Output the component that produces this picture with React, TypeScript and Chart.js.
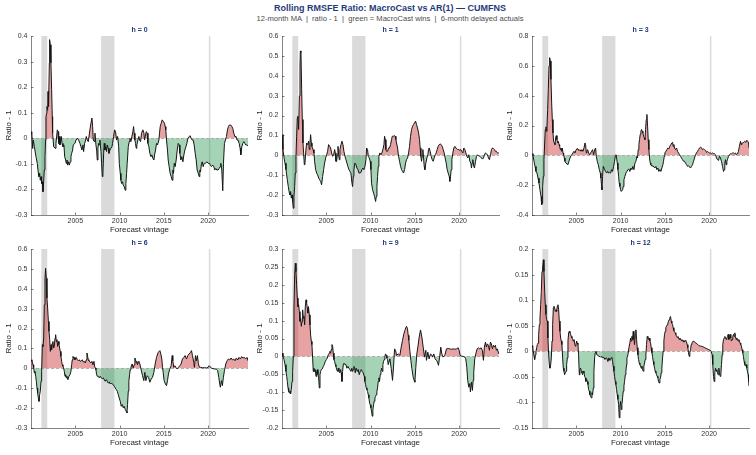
import { useEffect, useRef } from "react";
import { Chart, registerables } from "chart.js";

Chart.register(...registerables);

const FONT = '"Liberation Sans", Arial, Helvetica, sans-serif';
const NAVY = "#1f3a7a";
const AXIS = "#333333";
const RED_FILL = "rgba(205, 60, 60, 0.47)";
const GREEN_FILL = "rgba(40, 150, 80, 0.42)";
const BAND = "#dadada";

// NBER recessions (decimal years)
const recessions: [number, number][] = [
  [2001.17, 2001.83],
  [2007.92, 2009.42],
  [2020.08, 2020.25],
];

const vintageRange: [number, number] = [2000, 2024.5];
const yearTicks = [2005, 2010, 2015, 2020];

// Rolling RMSFE ratio - 1, by forecast vintage (decimal year)
const ratioH0: [number, number][] = [
  [2000.00,0.017],[2000.08,0.026],[2000.19,-0.040],[2000.26,-0.007],[2000.38,-0.033],[2000.56,-0.072],[2000.71,-0.098],[2000.83,-0.137],[2000.90,-0.150],[2000.98,-0.137],
  [2001.05,-0.164],[2001.13,-0.150],[2001.20,-0.177],[2001.28,-0.170],[2001.35,-0.209],[2001.43,-0.170],[2001.50,-0.124],[2001.58,-0.072],[2001.65,-0.007],[2001.69,0.085],
  [2001.77,0.098],[2001.80,0.124],[2001.88,0.110],[2001.92,0.183],[2001.96,0.163],[2002.00,0.124],[2002.07,0.295],[2002.10,0.386],[2002.18,0.366],[2002.25,0.295],
  [2002.33,0.190],[2002.40,0.085],[2002.44,0.020],[2002.56,-0.033],[2002.71,-0.039],[2002.82,-0.020],[2002.97,0.033],[2003.05,0.026],[2003.12,-0.020],[2003.20,0.007],
  [2003.27,-0.026],[2003.35,-0.007],[2003.42,0.007],[2003.50,-0.020],[2003.61,-0.033],[2003.72,-0.026],[2003.80,-0.072],[2003.91,-0.085],[2003.98,-0.098],[2004.06,-0.085],
  [2004.14,-0.105],[2004.25,-0.092],[2004.32,-0.105],[2004.44,-0.092],[2004.51,-0.072],[2004.59,-0.059],[2004.70,-0.046],[2004.77,-0.026],[2004.96,-0.020],[2005.08,-0.007],
  [2005.23,0.000],[2005.38,-0.007],[2005.53,-0.020],[2005.64,-0.033],[2005.75,-0.046],[2005.87,-0.026],[2005.94,-0.052],[2006.05,-0.020],[2006.17,-0.007],[2006.24,0.007],
  [2006.35,-0.007],[2006.47,-0.013],[2006.65,0.033],[2006.77,0.059],[2006.88,0.079],[2006.96,0.046],[2007.03,-0.007],[2007.14,-0.013],[2007.22,0.020],[2007.33,-0.026],
  [2007.41,-0.046],[2007.48,-0.085],[2007.56,-0.039],[2007.63,-0.020],[2007.71,-0.026],[2007.78,-0.007],[2007.90,-0.052],[2007.97,-0.098],[2008.05,-0.150],[2008.12,-0.137],
  [2008.20,-0.059],[2008.27,-0.020],[2008.35,-0.046],[2008.46,-0.033],[2008.53,-0.052],[2008.61,-0.026],[2008.72,-0.039],[2008.80,-0.059],[2008.91,-0.046],[2009.02,-0.039],
  [2009.14,-0.033],[2009.21,-0.020],[2009.32,0.007],[2009.44,0.033],[2009.55,0.026],[2009.66,-0.007],[2009.78,0.007],[2009.90,-0.033],[2009.97,-0.098],[2010.08,-0.137],
  [2010.15,-0.164],[2010.23,-0.177],[2010.34,-0.170],[2010.41,-0.183],[2010.53,-0.190],[2010.64,-0.203],[2010.71,-0.177],[2010.79,-0.137],[2010.86,-0.098],[2010.98,-0.033],
  [2011.09,-0.013],[2011.17,0.000],[2011.28,-0.013],[2011.39,0.007],[2011.50,0.026],[2011.58,0.046],[2011.65,0.020],[2011.73,-0.007],[2011.80,-0.020],[2011.88,-0.039],
  [2011.95,-0.026],[2012.07,-0.007],[2012.18,0.007],[2012.25,-0.007],[2012.37,-0.013],[2012.48,0.020],[2012.63,0.033],[2012.75,0.020],[2012.82,-0.007],[2012.90,0.007],
  [2013.01,0.026],[2013.12,0.020],[2013.20,-0.020],[2013.31,-0.033],[2013.42,-0.059],[2013.54,-0.072],[2013.65,-0.065],[2013.76,-0.079],[2013.88,-0.085],[2013.95,-0.065],
  [2014.06,-0.046],[2014.17,-0.020],[2014.29,-0.026],[2014.44,-0.007],[2014.51,0.020],[2014.59,0.046],[2014.70,0.059],[2014.81,0.072],[2014.96,0.065],[2015.07,0.059],
  [2015.15,0.046],[2015.22,0.033],[2015.30,-0.007],[2015.41,-0.046],[2015.49,-0.085],[2015.60,-0.111],[2015.71,-0.137],[2015.83,-0.150],[2015.94,-0.164],[2016.02,-0.124],
  [2016.09,-0.137],[2016.17,-0.098],[2016.28,-0.111],[2016.39,-0.085],[2016.51,-0.046],[2016.62,-0.020],[2016.73,-0.026],[2016.81,-0.059],[2016.92,-0.085],[2017.03,-0.072],
  [2017.15,-0.092],[2017.26,-0.065],[2017.37,-0.046],[2017.49,-0.033],[2017.60,-0.020],[2017.71,0.000],[2017.86,0.007],[2017.97,0.010],[2018.08,0.000],[2018.20,-0.007],
  [2018.31,-0.007],[2018.42,-0.026],[2018.54,-0.059],[2018.65,-0.085],[2018.76,-0.124],[2018.88,-0.137],[2018.99,-0.150],[2019.06,-0.124],[2019.14,-0.131],[2019.25,-0.098],
  [2019.33,-0.092],[2019.44,-0.111],[2019.55,-0.098],[2019.70,-0.098],[2019.85,-0.092],[2020.00,-0.098],[2020.15,-0.098],[2020.26,-0.105],[2020.38,-0.111],[2020.53,-0.105],
  [2020.64,-0.111],[2020.75,-0.124],[2020.87,-0.118],[2020.98,-0.124],[2021.13,-0.124],[2021.24,-0.118],[2021.36,-0.111],[2021.43,-0.098],[2021.54,-0.124],[2021.65,-0.205],
  [2021.73,-0.098],[2021.84,-0.020],[2021.95,-0.007],[2022.07,0.007],[2022.18,0.033],[2022.29,0.046],[2022.40,0.052],[2022.55,0.052],[2022.67,0.046],[2022.78,0.039],
  [2022.89,0.020],[2023.01,0.007],[2023.16,0.007],[2023.27,-0.007],[2023.38,-0.007],[2023.50,-0.020],[2023.61,-0.039],[2023.69,-0.065],[2023.80,-0.033],[2023.91,-0.020],
  [2024.03,-0.013],[2024.14,-0.020],[2024.25,-0.026],[2024.36,-0.026],[2024.50,-0.029],
];

const ratioH1: [number, number][] = [
  [2000.00,0.104],[2000.11,0.029],[2000.23,-0.013],[2000.34,-0.039],[2000.45,-0.072],[2000.60,-0.123],[2000.71,-0.157],[2000.83,-0.190],[2000.90,-0.199],[2000.98,-0.182],
  [2001.05,-0.215],[2001.13,-0.199],[2001.20,-0.232],[2001.28,-0.266],[2001.35,-0.207],[2001.43,-0.157],[2001.50,-0.089],[2001.58,-0.005],[2001.65,0.096],[2001.73,0.189],
  [2001.80,0.197],[2001.88,0.130],[2001.96,0.298],[2002.03,0.449],[2002.07,0.525],[2002.14,0.517],[2002.22,0.332],[2002.29,0.180],[2002.37,0.062],[2002.44,0.012],
  [2002.52,-0.047],[2002.59,-0.039],[2002.67,0.012],[2002.78,0.062],[2002.90,0.054],[2003.01,0.071],[2003.08,0.029],[2003.16,0.062],[2003.23,0.104],[2003.31,0.062],
  [2003.38,0.045],[2003.50,0.029],[2003.61,0.012],[2003.68,-0.030],[2003.80,-0.072],[2003.91,-0.089],[2004.02,-0.098],[2004.14,-0.114],[2004.25,-0.123],[2004.36,-0.131],
  [2004.47,-0.148],[2004.59,-0.106],[2004.70,-0.072],[2004.81,-0.039],[2004.93,-0.013],[2005.04,0.003],[2005.15,0.020],[2005.26,0.054],[2005.38,0.045],[2005.49,0.037],
  [2005.60,0.012],[2005.72,-0.005],[2005.83,0.003],[2005.94,0.029],[2006.02,0.012],[2006.09,-0.030],[2006.17,-0.030],[2006.24,0.003],[2006.32,0.045],[2006.39,0.003],
  [2006.47,-0.022],[2006.54,0.029],[2006.66,0.054],[2006.77,0.071],[2006.88,0.054],[2006.99,0.020],[2007.11,-0.005],[2007.22,-0.022],[2007.33,-0.039],[2007.44,-0.056],
  [2007.56,-0.072],[2007.67,-0.081],[2007.78,-0.089],[2007.90,-0.140],[2007.97,-0.157],[2008.05,-0.106],[2008.12,-0.072],[2008.23,-0.039],[2008.35,-0.047],[2008.46,-0.064],
  [2008.57,-0.072],[2008.69,-0.089],[2008.80,-0.089],[2008.91,-0.086],[2009.02,-0.072],[2009.14,-0.064],[2009.25,-0.072],[2009.36,-0.056],[2009.48,-0.022],[2009.55,0.037],
  [2009.66,0.029],[2009.74,-0.005],[2009.85,-0.013],[2009.96,-0.030],[2010.04,-0.072],[2010.11,-0.140],[2010.23,-0.173],[2010.34,-0.190],[2010.45,-0.207],[2010.57,-0.232],
  [2010.64,-0.207],[2010.72,-0.157],[2010.79,-0.106],[2010.87,-0.056],[2010.94,-0.005],[2011.05,0.012],[2011.17,0.003],[2011.28,0.012],[2011.39,0.029],[2011.51,0.054],
  [2011.58,0.096],[2011.66,0.079],[2011.73,0.029],[2011.81,0.020],[2011.92,0.020],[2012.03,0.037],[2012.14,0.037],[2012.26,0.054],[2012.37,0.079],[2012.45,0.096],
  [2012.56,0.096],[2012.67,0.099],[2012.78,0.096],[2012.86,0.079],[2012.93,0.062],[2013.05,0.037],[2013.16,-0.005],[2013.27,-0.030],[2013.39,-0.056],[2013.50,-0.072],
  [2013.61,-0.081],[2013.72,-0.089],[2013.84,-0.072],[2013.95,-0.039],[2014.06,-0.022],[2014.18,-0.013],[2014.29,0.012],[2014.40,0.045],[2014.51,0.096],[2014.63,0.130],
  [2014.74,0.146],[2014.85,0.155],[2014.96,0.163],[2015.08,0.172],[2015.19,0.155],[2015.30,0.138],[2015.42,0.113],[2015.53,0.079],[2015.60,0.037],[2015.68,-0.005],
  [2015.75,-0.030],[2015.83,-0.005],[2015.90,0.029],[2015.98,-0.013],[2016.06,-0.056],[2016.13,-0.072],[2016.24,-0.039],[2016.36,-0.013],[2016.47,0.003],[2016.54,0.029],
  [2016.62,0.037],[2016.73,0.020],[2016.84,-0.005],[2016.96,-0.022],[2017.07,-0.030],[2017.18,-0.013],[2017.30,0.003],[2017.41,0.012],[2017.52,0.029],[2017.63,0.045],
  [2017.75,0.054],[2017.86,0.057],[2017.97,0.054],[2018.09,0.045],[2018.20,0.029],[2018.31,0.012],[2018.42,-0.013],[2018.54,-0.039],[2018.65,-0.072],[2018.76,-0.089],
  [2018.88,-0.106],[2018.95,-0.131],[2019.03,-0.106],[2019.10,-0.072],[2019.18,-0.022],[2019.29,0.012],[2019.40,0.037],[2019.51,0.045],[2019.63,0.037],[2019.74,0.034],
  [2019.85,0.029],[2019.97,0.029],[2020.08,0.025],[2020.19,0.029],[2020.30,0.020],[2020.42,0.012],[2020.53,0.037],[2020.64,0.029],[2020.76,0.012],[2020.87,-0.005],
  [2020.98,-0.013],[2021.09,0.003],[2021.21,-0.030],[2021.32,-0.039],[2021.39,-0.064],[2021.47,-0.039],[2021.54,-0.022],[2021.66,-0.056],[2021.73,-0.064],[2021.85,-0.030],
  [2021.96,-0.005],[2022.07,0.003],[2022.18,-0.002],[2022.30,-0.005],[2022.41,-0.008],[2022.52,-0.013],[2022.64,-0.019],[2022.75,-0.013],[2022.86,0.003],[2022.97,0.012],
  [2023.09,0.008],[2023.20,0.003],[2023.31,-0.013],[2023.42,-0.022],[2023.54,0.003],[2023.65,0.029],[2023.76,0.037],[2023.88,0.034],[2023.99,0.029],[2024.10,0.020],
  [2024.21,0.020],[2024.33,0.012],[2024.48,0.012],
];

const ratioH3: [number, number][] = [
  [2000.00,0.011],[2000.11,-0.002],[2000.23,-0.040],[2000.34,-0.074],[2000.45,-0.108],[2000.56,-0.119],[2000.68,-0.152],[2000.79,-0.186],[2000.90,-0.231],[2001.02,-0.276],
  [2001.09,-0.332],[2001.13,-0.321],[2001.20,-0.209],[2001.28,-0.141],[2001.35,-0.029],[2001.43,0.083],[2001.50,0.173],[2001.58,0.191],[2001.62,0.161],[2001.69,0.195],
  [2001.77,0.307],[2001.84,0.442],[2001.92,0.599],[2001.99,0.655],[2002.07,0.632],[2002.14,0.509],[2002.22,0.352],[2002.29,0.240],[2002.37,0.150],[2002.44,0.094],
  [2002.52,0.083],[2002.59,0.072],[2002.67,0.117],[2002.74,0.132],[2002.82,0.105],[2002.90,0.083],[2002.97,0.094],[2003.05,0.072],[2003.12,0.061],[2003.20,0.038],
  [2003.27,0.049],[2003.35,0.027],[2003.42,0.049],[2003.50,0.016],[2003.57,0.004],[2003.65,-0.018],[2003.72,-0.040],[2003.84,-0.052],[2003.95,-0.052],[2004.06,-0.063],
  [2004.17,-0.040],[2004.29,-0.018],[2004.40,-0.002],[2004.51,0.004],[2004.62,0.016],[2004.74,0.027],[2004.85,0.016],[2004.96,0.034],[2005.08,0.045],[2005.19,0.043],
  [2005.30,0.031],[2005.41,0.038],[2005.53,0.027],[2005.64,0.038],[2005.75,0.027],[2005.87,0.049],[2005.98,0.083],[2006.05,0.072],[2006.13,0.016],[2006.20,0.027],
  [2006.28,0.038],[2006.39,0.016],[2006.50,0.004],[2006.62,0.016],[2006.73,0.027],[2006.84,0.038],[2006.96,0.004],[2007.07,0.038],[2007.18,0.049],[2007.26,-0.007],
  [2007.37,-0.040],[2007.48,-0.063],[2007.60,-0.096],[2007.71,-0.119],[2007.78,-0.152],[2007.86,-0.209],[2007.90,-0.231],[2007.97,-0.141],[2008.05,-0.074],[2008.12,-0.074],
  [2008.20,-0.096],[2008.31,-0.108],[2008.42,-0.119],[2008.54,-0.108],[2008.65,-0.119],[2008.76,-0.114],[2008.87,-0.119],[2008.99,-0.096],[2009.10,-0.108],[2009.21,-0.074],
  [2009.32,-0.040],[2009.40,-0.007],[2009.48,0.004],[2009.55,-0.018],[2009.63,-0.052],[2009.70,-0.096],[2009.78,-0.141],[2009.85,-0.186],[2009.93,-0.209],[2010.00,-0.231],
  [2010.08,-0.242],[2010.15,-0.242],[2010.23,-0.231],[2010.30,-0.209],[2010.38,-0.164],[2010.49,-0.141],[2010.60,-0.119],[2010.72,-0.108],[2010.83,-0.096],[2010.94,-0.092],
  [2011.05,-0.108],[2011.17,-0.085],[2011.28,-0.096],[2011.39,-0.074],[2011.51,-0.096],[2011.62,-0.052],[2011.73,-0.040],[2011.84,-0.007],[2011.92,-0.018],[2011.99,0.038],
  [2012.07,0.072],[2012.14,0.105],[2012.22,0.141],[2012.29,0.161],[2012.37,0.173],[2012.45,0.161],[2012.52,0.150],[2012.60,0.128],[2012.67,0.117],[2012.75,0.105],
  [2012.82,0.173],[2012.90,0.240],[2012.97,0.274],[2013.05,0.195],[2013.12,0.105],[2013.20,0.038],[2013.27,-0.018],[2013.35,-0.052],[2013.42,-0.063],[2013.54,-0.074],
  [2013.65,-0.070],[2013.76,-0.078],[2013.87,-0.085],[2013.99,-0.074],[2014.10,-0.096],[2014.21,-0.085],[2014.32,-0.108],[2014.44,-0.096],[2014.55,-0.108],[2014.66,-0.085],
  [2014.78,-0.063],[2014.85,-0.040],[2014.93,-0.007],[2015.00,0.016],[2015.12,0.027],[2015.23,0.038],[2015.34,0.049],[2015.45,0.043],[2015.57,0.061],[2015.68,0.072],
  [2015.79,0.083],[2015.87,0.087],[2015.94,0.061],[2016.02,0.072],[2016.09,0.049],[2016.21,0.038],[2016.32,0.049],[2016.43,0.027],[2016.54,0.016],[2016.66,0.004],
  [2016.77,-0.007],[2016.88,-0.018],[2016.99,-0.029],[2017.11,-0.040],[2017.22,-0.040],[2017.33,-0.052],[2017.45,-0.063],[2017.56,-0.074],[2017.67,-0.070],[2017.79,-0.078],
  [2017.90,-0.085],[2018.01,-0.074],[2018.12,-0.063],[2018.24,-0.040],[2018.35,-0.018],[2018.46,0.004],[2018.57,0.016],[2018.69,0.027],[2018.80,0.038],[2018.91,0.049],
  [2019.03,0.056],[2019.14,0.049],[2019.25,0.038],[2019.37,0.043],[2019.48,0.038],[2019.59,0.034],[2019.70,0.020],[2019.82,0.025],[2019.93,0.020],[2020.04,0.016],
  [2020.15,0.016],[2020.27,0.011],[2020.38,0.016],[2020.49,0.011],[2020.60,0.011],[2020.72,0.004],[2020.83,-0.018],[2020.94,-0.029],[2021.06,-0.034],[2021.17,-0.007],
  [2021.28,-0.018],[2021.39,-0.040],[2021.51,-0.074],[2021.62,-0.108],[2021.70,-0.096],[2021.77,-0.052],[2021.85,-0.029],[2021.92,-0.063],[2022.00,-0.040],[2022.07,-0.029],
  [2022.18,-0.007],[2022.30,0.004],[2022.41,0.011],[2022.52,0.009],[2022.64,0.016],[2022.75,0.016],[2022.86,0.011],[2022.97,0.016],[2023.09,0.004],[2023.20,0.009],
  [2023.31,0.027],[2023.42,0.061],[2023.54,0.094],[2023.61,0.072],[2023.69,0.083],[2023.80,0.083],[2023.91,0.087],[2024.02,0.094],[2024.14,0.087],[2024.25,0.101],
  [2024.36,0.094],[2024.45,0.083],[2024.50,0.049],
];

const ratioH6: [number, number][] = [
  [2000.00,0.043],[2000.11,0.035],[2000.23,0.018],[2000.30,0.002],[2000.38,-0.023],[2000.45,-0.015],[2000.53,-0.040],[2000.60,-0.065],[2000.68,-0.099],[2000.75,-0.124],
  [2000.83,-0.149],[2000.90,-0.166],[2000.98,-0.132],[2001.05,-0.115],[2001.13,-0.065],[2001.20,-0.015],[2001.28,0.119],[2001.35,0.110],[2001.43,0.152],[2001.50,0.319],
  [2001.58,0.453],[2001.65,0.503],[2001.73,0.453],[2001.80,0.353],[2001.88,0.303],[2001.96,0.236],[2002.03,0.186],[2002.11,0.144],[2002.18,0.085],[2002.26,0.119],
  [2002.33,0.094],[2002.41,0.127],[2002.48,0.135],[2002.56,0.102],[2002.63,0.110],[2002.71,0.152],[2002.78,0.169],[2002.86,0.135],[2002.93,0.144],[2003.01,0.110],
  [2003.08,0.135],[2003.16,0.119],[2003.23,0.102],[2003.31,0.085],[2003.38,0.060],[2003.46,0.035],[2003.53,0.018],[2003.61,0.010],[2003.68,0.002],[2003.76,-0.015],
  [2003.84,-0.040],[2003.91,-0.032],[2003.99,-0.048],[2004.06,-0.040],[2004.17,-0.057],[2004.29,-0.040],[2004.40,-0.032],[2004.51,-0.015],[2004.59,0.018],[2004.66,0.043],
  [2004.74,0.060],[2004.81,0.052],[2004.89,0.055],[2004.96,0.043],[2005.04,0.052],[2005.11,0.055],[2005.23,0.043],[2005.34,0.038],[2005.45,0.043],[2005.56,0.035],
  [2005.68,0.038],[2005.79,0.043],[2005.90,0.032],[2006.02,0.035],[2006.13,0.027],[2006.24,0.043],[2006.32,0.077],[2006.39,0.060],[2006.47,0.043],[2006.54,0.038],
  [2006.66,0.032],[2006.77,0.027],[2006.88,0.035],[2006.99,0.018],[2007.11,0.035],[2007.18,0.010],[2007.26,0.002],[2007.33,-0.007],[2007.41,-0.032],[2007.48,-0.040],
  [2007.60,-0.040],[2007.71,-0.048],[2007.82,-0.040],[2007.93,-0.048],[2008.05,-0.052],[2008.16,-0.048],[2008.27,-0.057],[2008.38,-0.065],[2008.50,-0.057],[2008.61,-0.065],
  [2008.72,-0.074],[2008.84,-0.069],[2008.95,-0.079],[2009.06,-0.074],[2009.17,-0.079],[2009.29,-0.082],[2009.40,-0.090],[2009.51,-0.099],[2009.63,-0.107],[2009.74,-0.115],
  [2009.85,-0.132],[2009.96,-0.149],[2010.08,-0.166],[2010.19,-0.191],[2010.31,-0.182],[2010.42,-0.199],[2010.53,-0.191],[2010.64,-0.207],[2010.75,-0.216],[2010.83,-0.224],
  [2010.90,-0.182],[2010.98,-0.115],[2011.05,-0.065],[2011.13,-0.032],[2011.20,-0.007],[2011.28,0.002],[2011.36,0.018],[2011.43,0.022],[2011.54,0.002],[2011.65,0.018],
  [2011.73,0.052],[2011.80,0.043],[2011.88,0.027],[2011.95,0.035],[2012.03,0.018],[2012.11,0.032],[2012.18,0.035],[2012.29,0.022],[2012.59,-0.037],[2012.74,-0.062],
  [2012.85,-0.020],[2012.97,-0.062],[2013.12,-0.037],[2013.27,-0.045],[2013.42,-0.070],[2013.57,-0.054],[2013.72,-0.045],[2013.87,-0.020],[2014.02,0.022],[2014.17,0.055],
  [2014.36,0.080],[2014.55,0.089],[2014.66,0.072],[2014.77,0.047],[2014.85,0.005],[2014.92,-0.020],[2015.03,-0.062],[2015.18,-0.079],[2015.30,-0.087],[2015.41,-0.062],
  [2015.52,-0.028],[2015.67,-0.003],[2015.82,0.013],[2015.94,0.064],[2016.01,0.038],[2016.12,0.005],[2016.24,0.013],[2016.35,0.005],[2016.50,-0.003],[2016.65,0.005],
  [2016.80,0.013],[2016.95,0.022],[2017.10,0.047],[2017.25,0.055],[2017.40,0.064],[2017.55,0.047],[2017.70,0.064],[2017.85,0.072],[2018.00,0.080],[2018.12,0.089],
  [2018.23,0.064],[2018.38,0.030],[2018.45,0.005],[2018.57,0.064],[2018.68,0.038],[2018.79,0.064],[2018.90,0.022],[2019.02,0.005],[2019.13,0.005],[2019.36,0.003],
  [2019.62,0.003],[2019.81,0.002],[2019.99,0.005],[2020.11,0.013],[2020.22,0.008],[2020.37,0.002],[2020.56,-0.002],[2020.75,-0.003],[2020.93,-0.005],[2021.08,-0.012],
  [2021.20,-0.045],[2021.31,-0.079],[2021.38,-0.095],[2021.50,-0.062],[2021.61,-0.087],[2021.72,-0.045],[2021.84,-0.012],[2021.99,0.022],[2022.14,0.038],[2022.29,0.047],
  [2022.44,0.042],[2022.59,0.052],[2022.74,0.042],[2022.89,0.047],[2023.04,0.038],[2023.19,0.052],[2023.34,0.042],[2023.49,0.055],[2023.64,0.047],[2023.79,0.059],
  [2023.94,0.052],[2024.09,0.055],[2024.24,0.047],[2024.39,0.055],[2024.50,0.038],
];

const ratioH9: [number, number][] = [
  [2000.00,0.009],[2000.11,0.000],[2000.23,-0.009],[2000.34,-0.023],[2000.45,-0.042],[2000.53,-0.056],[2000.60,-0.070],[2000.68,-0.088],[2000.75,-0.098],[2000.83,-0.102],
  [2000.90,-0.096],[2000.98,-0.105],[2001.05,-0.093],[2001.13,-0.070],[2001.20,-0.042],[2001.28,0.000],[2001.35,0.135],[2001.43,0.228],[2001.50,0.260],[2001.58,0.237],
  [2001.65,0.200],[2001.73,0.163],[2001.80,0.139],[2001.88,0.144],[2001.96,0.125],[2002.03,0.098],[2002.11,0.107],[2002.18,0.084],[2002.26,0.098],[2002.33,0.130],
  [2002.41,0.107],[2002.48,0.112],[2002.56,0.088],[2002.63,0.139],[2002.71,0.158],[2002.78,0.149],[2002.86,0.135],[2002.93,0.121],[2002.99,0.139],[2003.08,0.116],
  [2003.16,0.088],[2003.23,0.060],[2003.31,0.042],[2003.38,0.033],[2003.46,-0.005],[2003.53,-0.042],[2003.61,-0.033],[2003.68,-0.042],[2003.76,-0.037],[2003.84,-0.056],
  [2003.91,-0.042],[2003.99,-0.037],[2004.06,-0.051],[2004.14,-0.060],[2004.21,-0.088],[2004.29,-0.051],[2004.36,-0.042],[2004.44,-0.037],[2004.55,-0.035],[2004.66,-0.028],
  [2004.77,-0.023],[2004.89,-0.014],[2005.00,-0.009],[2005.11,-0.005],[2005.23,0.005],[2005.34,0.009],[2005.41,0.014],[2005.49,0.009],[2005.56,0.019],[2005.64,0.033],
  [2005.72,0.028],[2005.79,0.009],[2005.87,-0.009],[2005.94,-0.014],[2006.02,-0.023],[2006.09,-0.028],[2006.17,-0.037],[2006.28,-0.042],[2006.35,-0.033],[2006.43,-0.042],
  [2006.54,-0.046],[2006.62,-0.037],[2006.69,-0.046],[2006.77,-0.070],[2006.84,-0.042],[2006.92,-0.023],[2006.99,-0.019],[2007.11,-0.023],[2007.22,-0.023],[2007.33,-0.033],
  [2007.44,-0.028],[2007.56,-0.033],[2007.67,-0.037],[2007.78,-0.042],[2007.89,-0.033],[2007.97,-0.042],[2008.05,-0.037],[2008.12,-0.028],[2008.20,-0.033],[2008.27,-0.046],
  [2008.38,-0.033],[2008.50,-0.042],[2008.61,-0.037],[2008.72,-0.051],[2008.84,-0.042],[2008.95,-0.037],[2009.06,-0.042],[2009.17,-0.046],[2009.29,-0.056],[2009.36,-0.070],
  [2009.44,-0.079],[2009.51,-0.088],[2009.59,-0.093],[2009.66,-0.098],[2009.74,-0.107],[2009.81,-0.116],[2009.89,-0.130],[2009.96,-0.135],[2010.04,-0.144],[2010.11,-0.153],
  [2010.19,-0.167],[2010.26,-0.149],[2010.34,-0.135],[2010.41,-0.125],[2010.49,-0.116],[2010.56,-0.112],[2010.64,-0.107],[2010.71,-0.098],[2010.79,-0.088],[2010.86,-0.070],
  [2010.94,-0.060],[2011.01,-0.070],[2011.09,-0.051],[2011.17,-0.042],[2011.24,-0.033],[2011.32,-0.042],[2011.39,-0.023],[2011.47,-0.014],[2011.54,-0.009],[2011.62,0.000],
  [2011.69,0.007],[2011.77,0.003],[2011.84,-0.005],[2011.92,-0.009],[2011.99,-0.023],[2012.18,-0.007],[2012.33,-0.034],[2012.48,-0.067],[2012.59,-0.030],[2012.71,0.021],
  [2012.82,0.017],[2012.93,0.003],[2013.12,0.007],[2013.31,0.003],[2013.46,0.026],[2013.61,0.045],[2013.76,0.063],[2013.87,0.072],[2013.98,0.080],[2014.06,0.084],
  [2014.17,0.077],[2014.25,0.059],[2014.32,0.045],[2014.43,0.017],[2014.55,-0.011],[2014.66,-0.034],[2014.81,-0.058],[2014.92,-0.067],[2015.00,-0.072],[2015.11,-0.030],
  [2015.22,0.007],[2015.34,0.026],[2015.49,0.054],[2015.64,0.074],[2015.79,0.054],[2015.94,0.026],[2016.09,-0.002],[2016.24,0.017],[2016.31,-0.011],[2016.46,0.012],
  [2016.61,-0.007],[2016.77,0.007],[2016.92,0.003],[2016.99,-0.002],[2017.14,0.007],[2017.29,-0.007],[2017.44,-0.011],[2017.55,-0.016],[2017.67,-0.025],[2017.82,0.003],
  [2017.93,0.026],[2018.04,0.007],[2018.19,-0.002],[2018.38,0.003],[2018.57,0.021],[2018.76,0.022],[2018.94,0.021],[2019.13,0.020],[2019.32,0.021],[2019.51,0.020],
  [2019.70,0.021],[2019.89,0.024],[2020.00,0.017],[2020.11,0.003],[2020.26,0.001],[2020.45,0.000],[2020.64,-0.002],[2020.75,-0.007],[2020.86,-0.030],[2020.97,-0.067],
  [2021.09,-0.086],[2021.20,-0.076],[2021.27,-0.099],[2021.39,-0.072],[2021.50,-0.095],[2021.58,-0.067],[2021.65,-0.044],[2021.76,-0.007],[2021.88,0.007],[2022.03,0.021],
  [2022.18,0.024],[2022.33,0.021],[2022.48,0.024],[2022.63,0.017],[2022.74,-0.011],[2022.85,0.026],[2022.97,0.040],[2023.08,0.026],[2023.19,0.035],[2023.30,0.031],
  [2023.42,0.017],[2023.53,0.040],[2023.64,0.035],[2023.76,0.021],[2023.87,0.031],[2023.98,0.026],[2024.09,0.031],[2024.21,0.017],[2024.32,0.021],[2024.47,0.007],
];

const ratioH12: [number, number][] = [
  [2000.00,0.011],[2000.08,0.007],[2000.15,0.000],[2000.23,-0.010],[2000.30,-0.016],[2000.38,-0.007],[2000.45,0.000],[2000.53,0.007],[2000.60,0.013],[2000.68,0.016],
  [2000.75,0.033],[2000.83,0.052],[2000.90,0.065],[2000.98,0.091],[2001.05,0.117],[2001.13,0.156],[2001.20,0.163],[2001.28,0.179],[2001.35,0.156],[2001.43,0.117],
  [2001.50,0.091],[2001.58,0.072],[2001.65,0.062],[2001.73,0.059],[2001.80,0.026],[2001.88,-0.007],[2001.96,-0.026],[2002.03,-0.033],[2002.11,-0.026],[2002.18,-0.013],
  [2002.26,0.020],[2002.33,0.052],[2002.41,0.085],[2002.48,0.088],[2002.56,0.085],[2002.63,0.078],[2002.71,0.081],[2002.78,0.078],[2002.86,0.088],[2002.93,0.091],
  [2003.01,0.081],[2003.08,0.059],[2003.16,0.039],[2003.23,0.026],[2003.31,0.020],[2003.38,0.013],[2003.46,-0.013],[2003.53,-0.033],[2003.61,-0.039],[2003.68,-0.046],
  [2003.76,-0.042],[2003.84,-0.039],[2003.91,-0.026],[2003.99,-0.013],[2004.06,0.020],[2004.14,0.036],[2004.21,0.039],[2004.29,0.036],[2004.36,0.033],[2004.44,0.029],
  [2004.51,0.026],[2004.59,0.023],[2004.66,0.020],[2004.74,0.023],[2004.81,0.016],[2004.89,0.010],[2004.96,0.013],[2005.04,0.020],[2005.11,0.016],[2005.19,0.013],
  [2005.26,-0.007],[2005.34,-0.046],[2005.41,-0.036],[2005.49,-0.033],[2005.56,-0.039],[2005.64,-0.042],[2005.71,-0.046],[2005.79,-0.039],[2005.87,-0.042],[2005.94,-0.049],
  [2006.02,-0.052],[2006.09,-0.059],[2006.17,-0.055],[2006.24,-0.059],[2006.32,-0.065],[2006.39,-0.075],[2006.47,-0.078],[2006.54,-0.085],[2006.62,-0.088],[2006.69,-0.091],
  [2006.77,-0.081],[2006.84,-0.085],[2006.92,-0.072],[2006.99,-0.039],[2007.07,-0.013],[2007.14,-0.003],[2007.22,0.000],[2007.33,-0.007],[2007.44,-0.008],[2007.56,-0.010],
  [2007.67,-0.010],[2007.78,-0.012],[2007.90,-0.010],[2008.01,-0.013],[2008.12,-0.012],[2008.24,-0.016],[2008.35,-0.013],[2008.46,-0.014],[2008.57,-0.020],[2008.69,-0.013],
  [2008.80,-0.018],[2008.87,-0.016],[2008.95,-0.013],[2009.02,-0.012],[2009.10,-0.020],[2009.17,-0.029],[2009.25,-0.039],[2009.32,-0.049],[2009.40,-0.059],[2009.47,-0.065],
  [2009.55,-0.075],[2009.62,-0.085],[2009.70,-0.094],[2009.78,-0.104],[2009.85,-0.130],[2009.93,-0.107],[2010.00,-0.098],[2010.08,-0.114],[2010.15,-0.104],[2010.23,-0.091],
  [2010.30,-0.078],[2010.38,-0.068],[2010.45,-0.059],[2010.53,-0.046],[2010.60,-0.039],[2010.68,-0.026],[2010.72,-0.013],[2010.83,-0.007],[2010.94,0.007],[2011.05,0.016],
  [2011.13,0.026],[2011.20,0.020],[2011.28,0.029],[2011.35,0.023],[2011.43,0.039],[2011.51,0.023],[2011.58,0.013],[2011.66,0.033],[2011.73,0.042],[2011.81,0.023],
  [2011.88,0.007],[2011.96,-0.007],[2012.03,-0.016],[2012.11,-0.023],[2012.18,-0.026],[2012.26,-0.029],[2012.33,-0.033],[2012.41,-0.029],[2012.48,-0.036],[2012.56,-0.039],
  [2012.63,-0.029],[2012.71,-0.023],[2012.78,-0.016],[2012.86,-0.007],[2012.93,0.013],[2013.01,0.029],[2013.09,0.026],[2013.16,0.023],[2013.24,0.026],[2013.31,0.020],
  [2013.39,0.016],[2013.46,0.007],[2013.54,-0.003],[2013.61,-0.010],[2013.69,-0.020],[2013.76,-0.026],[2013.84,-0.033],[2013.91,-0.039],[2013.99,-0.042],[2014.06,-0.046],
  [2014.14,-0.049],[2014.21,-0.052],[2014.29,-0.059],[2014.36,-0.062],[2014.44,-0.055],[2014.51,-0.052],[2014.59,-0.042],[2014.66,-0.033],[2014.74,-0.013],[2014.81,0.000],
  [2014.89,0.020],[2014.96,0.033],[2015.04,0.039],[2015.11,0.046],[2015.19,0.049],[2015.27,0.052],[2015.34,0.055],[2015.42,0.059],[2015.49,0.062],[2015.57,0.066],
  [2015.64,0.068],[2015.72,0.059],[2015.79,0.055],[2015.87,0.052],[2015.94,0.046],[2016.02,0.040],[2016.09,0.038],[2016.17,0.036],[2016.24,0.033],[2016.32,0.029],
  [2016.40,0.027],[2016.47,0.029],[2016.55,0.026],[2016.62,0.023],[2016.70,0.026],[2016.77,0.023],[2016.85,0.021],[2016.92,0.023],[2017.00,0.020],[2017.07,0.021],
  [2017.15,0.018],[2017.22,0.020],[2017.29,0.021],[2017.37,0.020],[2017.45,0.018],[2017.52,0.013],[2017.60,0.007],[2017.67,-0.003],[2017.75,-0.010],[2017.82,-0.003],
  [2017.90,0.003],[2017.97,0.013],[2018.05,0.016],[2018.12,0.018],[2018.20,0.020],[2018.27,0.020],[2018.38,0.018],[2018.50,0.016],[2018.61,0.015],[2018.84,0.011],
  [2019.06,0.010],[2019.29,0.009],[2019.51,0.007],[2019.74,0.005],[2019.97,0.003],[2020.12,0.002],[2020.23,0.000],[2020.34,-0.007],[2020.41,-0.026],[2020.49,-0.049],
  [2020.57,-0.059],[2020.64,-0.042],[2020.72,-0.033],[2020.79,-0.039],[2020.87,-0.036],[2020.94,-0.042],[2021.02,-0.046],[2021.09,-0.033],[2021.17,-0.042],[2021.24,-0.049],
  [2021.32,-0.046],[2021.39,-0.026],[2021.47,-0.007],[2021.54,0.013],[2021.62,0.023],[2021.70,0.026],[2021.77,0.029],[2021.85,0.027],[2021.92,0.023],[2022.00,0.026],
  [2022.07,0.029],[2022.15,0.033],[2022.22,0.023],[2022.30,0.026],[2022.37,0.033],[2022.45,0.026],[2022.52,0.020],[2022.60,0.023],[2022.67,0.029],[2022.75,0.033],
  [2022.82,0.029],[2022.90,0.036],[2022.97,0.029],[2023.05,0.023],[2023.12,0.026],[2023.20,0.023],[2023.27,0.020],[2023.35,0.023],[2023.42,0.020],[2023.50,0.016],
  [2023.57,0.013],[2023.65,0.010],[2023.72,0.003],[2023.80,-0.003],[2023.87,-0.010],[2023.95,-0.020],[2024.02,-0.026],[2024.10,-0.029],[2024.17,-0.026],[2024.25,-0.033],
  [2024.32,-0.039],[2024.40,-0.046],[2024.47,-0.059],[2024.50,-0.068],
];

// y-axis tick values per horizon
const ticksH0 = [-0.3, -0.2, -0.1, 0, 0.1, 0.2, 0.3, 0.4];
const ticksH1 = [-0.3, -0.2, -0.1, 0, 0.1, 0.2, 0.3, 0.4, 0.5, 0.6];
const ticksH3 = [-0.4, -0.2, 0, 0.2, 0.4, 0.6, 0.8];
const ticksH6 = [-0.3, -0.2, -0.1, 0, 0.1, 0.2, 0.3, 0.4, 0.5, 0.6];
const ticksH9 = [-0.2, -0.15, -0.1, -0.05, 0, 0.05, 0.1, 0.15, 0.2, 0.25, 0.3];
const ticksH12 = [-0.15, -0.1, -0.05, 0, 0.05, 0.1, 0.15, 0.2];

type PanelSpec = { title: string; series: [number, number][]; yTicks: number[] };

const panels: PanelSpec[] = [
  { title: "h = 0", series: ratioH0, yTicks: ticksH0 },
  { title: "h = 1", series: ratioH1, yTicks: ticksH1 },
  { title: "h = 3", series: ratioH3, yTicks: ticksH3 },
  { title: "h = 6", series: ratioH6, yTicks: ticksH6 },
  { title: "h = 9", series: ratioH9, yTicks: ticksH9 },
  { title: "h = 12", series: ratioH12, yTicks: ticksH12 },
];

const CANVAS_W = 250;
const CANVAS_H = 230;
const COL_LEFT = [0, 251, 501];
const ROW_TOP = [21, 234];

const panelDecor = {
  id: "panelDecor",
  beforeDatasetsDraw(chart: any) {
    const { ctx, chartArea: a, scales } = chart;
    const x = scales.x;
    ctx.save();
    ctx.fillStyle = BAND;
    for (const [s, e] of recessions) {
      const x0 = Math.max(a.left, x.getPixelForValue(s));
      const x1 = Math.min(a.right, x.getPixelForValue(e));
      if (x1 > x0) ctx.fillRect(x0, a.top, x1 - x0, a.bottom - a.top);
    }
    ctx.restore();
  },
  afterDatasetDraw(chart: any, args: any) {
    // dashed zero reference, above the fill and below the line
    if (args.index !== 1) return;
    const { ctx, chartArea: a, scales } = chart;
    const y0 = Math.round(scales.y.getPixelForValue(0)) + 0.5;
    ctx.save();
    ctx.strokeStyle = "#a0a0a0";
    ctx.lineWidth = 0.8;
    ctx.setLineDash([3, 2]);
    ctx.beginPath();
    ctx.moveTo(a.left, y0);
    ctx.lineTo(a.right, y0);
    ctx.stroke();
    ctx.restore();
  },
  afterDraw(chart: any) {
    const { ctx, chartArea: a, scales } = chart;
    const title = chart.options.plugins.panelDecor.title;
    ctx.save();
    // inward tick marks
    ctx.strokeStyle = AXIS;
    ctx.lineWidth = 0.6;
    ctx.beginPath();
    for (const t of scales.y.ticks) {
      const py = Math.round(scales.y.getPixelForValue(t.value)) + 0.5;
      ctx.moveTo(a.left, py);
      ctx.lineTo(a.left + 2.5, py);
    }
    for (const t of scales.x.ticks) {
      const px = Math.round(scales.x.getPixelForValue(t.value)) + 0.5;
      ctx.moveTo(px, a.bottom);
      ctx.lineTo(px, a.bottom - 2.5);
    }
    ctx.stroke();
    // panel title
    ctx.fillStyle = NAVY;
    ctx.font = `bold 7px ${FONT}`;
    ctx.textAlign = "center";
    ctx.textBaseline = "middle";
    ctx.fillText(title, (a.left + a.right) / 2, a.top - 5.5);
    // axis titles
    ctx.fillStyle = "#262626";
    ctx.font = `8px ${FONT}`;
    ctx.fillText("Forecast vintage", (a.left + a.right) / 2, a.bottom + 15);
    ctx.translate(a.left - 22, (a.top + a.bottom) / 2);
    ctx.rotate(-Math.PI / 2);
    ctx.fillText("Ratio - 1", 0, 0);
    ctx.restore();
  },
};

function Panel({ spec, left, top }: { spec: PanelSpec; left: number; top: number }) {
  const ref = useRef<HTMLCanvasElement>(null);
  useEffect(() => {
    const points = spec.series.map(([x, y]) => ({ x, y }));
    const yMin = spec.yTicks[0];
    const yMax = spec.yTicks[spec.yTicks.length - 1];
    const tickFont = { family: FONT, size: 7 };
    const chart = new Chart(ref.current as HTMLCanvasElement, {
      type: "line",
      data: {
        datasets: [
          {
            data: points,
            borderColor: "#151515",
            borderWidth: 1,
            pointRadius: 0,
            tension: 0,
            fill: false,
          },
          {
            data: points,
            borderColor: "rgba(0,0,0,0)",
            borderWidth: 0,
            pointRadius: 0,
            tension: 0,
            fill: { target: { value: 0 }, above: RED_FILL, below: GREEN_FILL },
          },
        ],
      },
      options: {
        responsive: false,
        animation: false,
        devicePixelRatio: 1,
        layout: { padding: { top: 15, right: 2, left: 0, bottom: 0 } },
        plugins: {
          legend: { display: false },
          tooltip: { enabled: false },
          panelDecor: { title: spec.title },
        } as any,
        scales: {
          x: {
            type: "linear",
            min: vintageRange[0],
            max: vintageRange[1],
            afterBuildTicks: (s: any) => {
              s.ticks = yearTicks.map((v) => ({ value: v }));
            },
            afterFit: (s: any) => {
              s.height = 36;
            },
            ticks: {
              callback: (v: any) => String(v),
              font: tickFont,
              color: "#333333",
              padding: 2,
              maxRotation: 0,
              autoSkip: false,
            },
            grid: { display: false, drawTicks: false },
            border: { display: true, color: AXIS, width: 0.6 },
          },
          y: {
            type: "linear",
            min: yMin,
            max: yMax,
            afterBuildTicks: (s: any) => {
              s.ticks = spec.yTicks.map((v) => ({ value: v }));
            },
            afterFit: (s: any) => {
              s.width = 31;
            },
            ticks: {
              callback: (v: any) => String(Math.round(Number(v) * 1000) / 1000),
              font: tickFont,
              color: "#333333",
              padding: 3.5,
              autoSkip: false,
            },
            grid: { display: false, drawTicks: false },
            border: { display: true, color: AXIS, width: 0.6 },
          },
        },
      },
      plugins: [panelDecor],
    } as any);
    return () => chart.destroy();
  }, [spec]);
  return (
    <canvas
      ref={ref}
      width={CANVAS_W}
      height={CANVAS_H}
      style={{ position: "absolute", left, top, width: CANVAS_W, height: CANVAS_H }}
    />
  );
}

export default function App() {
  return (
    <div
      style={{
        position: "fixed",
        left: 0,
        top: 0,
        width: 756,
        height: 455,
        background: "#ffffff",
        overflow: "hidden",
        fontFamily: FONT,
      }}
    >
      <div
        style={{
          position: "absolute",
          left: 0,
          width: 780,
          top: 3,
          textAlign: "center",
          fontSize: 9,
          fontWeight: "bold",
          color: NAVY,
          lineHeight: "11px",
        }}
      >
        Rolling RMSFE Ratio: MacroCast vs AR(1) — CUMFNS
      </div>
      <div
        style={{
          position: "absolute",
          left: 0,
          width: 780,
          top: 14,
          textAlign: "center",
          fontSize: 7.6,
          color: "#4d4d4d",
          lineHeight: "10px",
          whiteSpace: "pre",
        }}
      >
        {"12-month MA  |  ratio - 1  |  green = MacroCast wins  |  6-month delayed actuals"}
      </div>
      {panels.map((p, i) => (
        <Panel key={p.title} spec={p} left={COL_LEFT[i % 3]} top={ROW_TOP[Math.floor(i / 3)]} />
      ))}
    </div>
  );
}
